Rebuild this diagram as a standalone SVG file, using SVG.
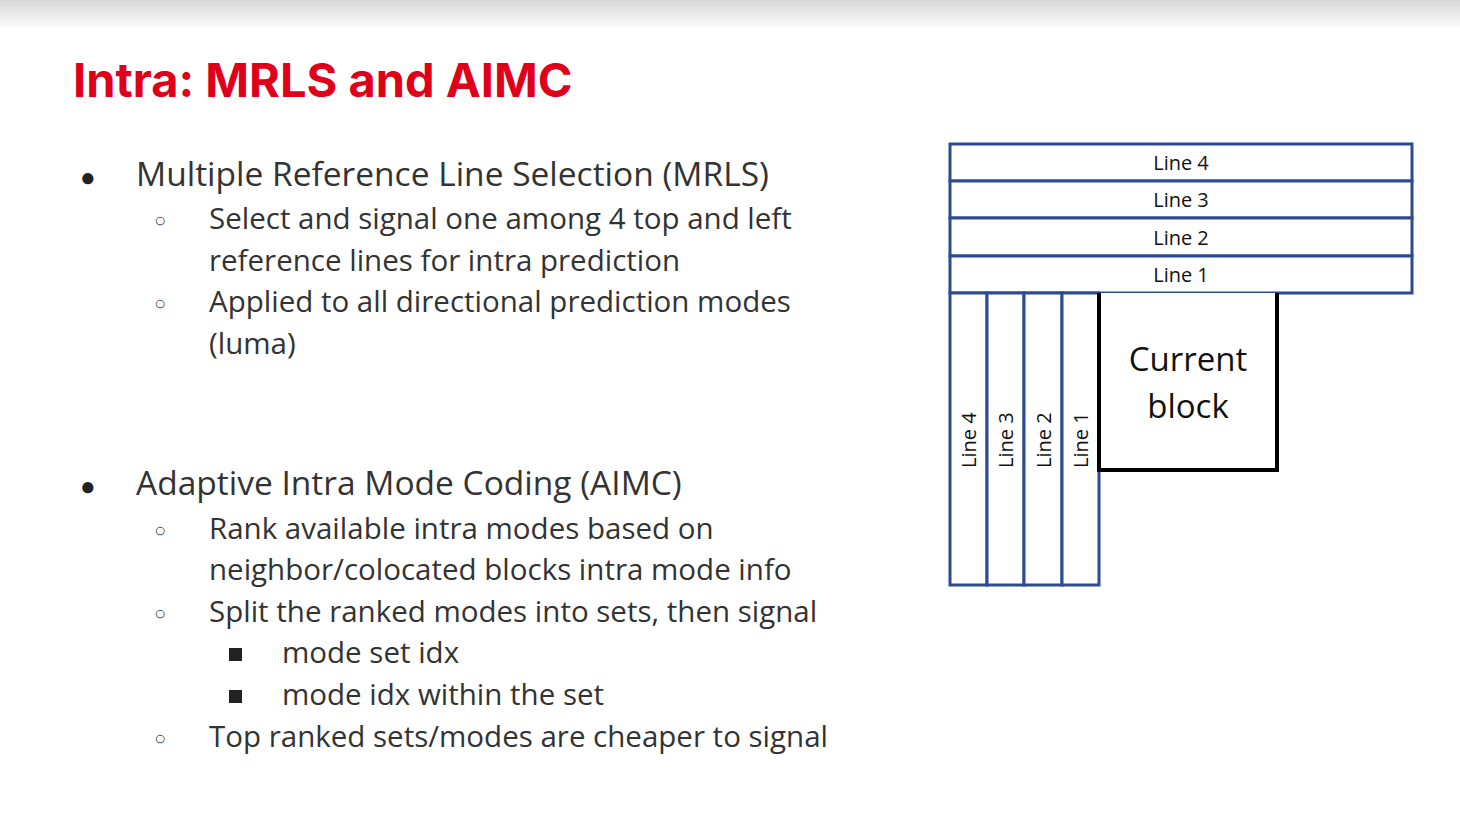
<svg xmlns="http://www.w3.org/2000/svg" width="1460" height="816" viewBox="0 0 1460 816">
<defs>
<linearGradient id="tg" x1="0" y1="0" x2="0" y2="1"><stop offset="0" stop-color="#d8d8d8"/><stop offset="1" stop-color="#ffffff"/></linearGradient>
<style>
.t{font-family:"Open Sans","Liberation Sans",sans-serif;font-size:29.5px;fill:#333}
.t1{font-family:"Open Sans","Liberation Sans",sans-serif;font-size:33.5px;fill:#333}
.b{font-family:"Liberation Sans",sans-serif;font-size:26px;fill:#222}
.c{font-family:"Liberation Sans",sans-serif;font-size:20px;fill:#555}
.lr{fill:#fff;stroke:#2f4b8f;stroke-width:3}
.ll{font-family:"Open Sans","Liberation Sans",sans-serif;font-size:20px;fill:#111;text-anchor:middle}
</style>
</defs>
<rect width="1460" height="816" fill="#fff"/>
<rect width="1460" height="30" fill="url(#tg)"/>
<text x="73" y="97" font-family="Inter,'Liberation Sans',sans-serif" font-weight="bold" font-size="47" fill="#e0001a">Intra: MRLS and AIMC</text>
<g id="text">
<text class="b" x="80" y="186">●</text>
<text class="t1" x="136" y="186">Multiple Reference Line Selection (MRLS)</text>
<text class="c" x="154" y="227">○</text>
<text class="t" x="209" y="229">Select and signal one among 4 top and left</text>
<text class="t" x="209" y="271">reference lines for intra prediction</text>
<text class="c" x="154" y="310">○</text>
<text class="t" x="209" y="312">Applied to all directional prediction modes</text>
<text class="t" x="209" y="354">(luma)</text>
<text class="b" x="80" y="495">●</text>
<text class="t1" x="136" y="495">Adaptive Intra Mode Coding (AIMC)</text>
<text class="c" x="154" y="537">○</text>
<text class="t" x="209" y="539">Rank available intra modes based on</text>
<text class="t" x="209" y="580">neighbor/colocated blocks intra mode info</text>
<text class="c" x="154" y="620">○</text>
<text class="t" x="209" y="622">Split the ranked modes into sets, then signal</text>
<rect x="229" y="648" width="13" height="13" fill="#222"/>
<text class="t" x="282" y="663">mode set idx</text>
<rect x="229" y="690" width="13" height="13" fill="#222"/>
<text class="t" x="282" y="705">mode idx within the set</text>
<text class="c" x="154" y="745">○</text>
<text class="t" x="209" y="747">Top ranked sets/modes are cheaper to signal</text>
</g>
<g id="top-lines">
<rect class="lr" x="950" y="144" width="462" height="37"/>
<rect class="lr" x="950" y="181" width="462" height="37"/>
<rect class="lr" x="950" y="218" width="462" height="38"/>
<rect class="lr" x="950" y="256" width="462" height="37"/>
<text class="ll" x="1181" y="170">Line 4</text>
<text class="ll" x="1181" y="207">Line 3</text>
<text class="ll" x="1181" y="245">Line 2</text>
<text class="ll" x="1181" y="282">Line 1</text>
</g>
<g id="left-lines">
<rect class="lr" x="950" y="293" width="37" height="292"/>
<rect class="lr" x="987" y="293" width="37" height="292"/>
<rect class="lr" x="1024" y="293" width="38" height="292"/>
<rect class="lr" x="1062" y="293" width="37" height="292"/>
<text class="ll" style="text-anchor:start" transform="translate(976,468) rotate(-90)">Line 4</text>
<text class="ll" style="text-anchor:start" transform="translate(1013,468) rotate(-90)">Line 3</text>
<text class="ll" style="text-anchor:start" transform="translate(1051,468) rotate(-90)">Line 2</text>
<text class="ll" style="text-anchor:start" transform="translate(1088,468) rotate(-90)">Line 1</text>
</g>
<g id="current-block">
<path d="M1099 293 V470 H1277 V293" fill="#fff" stroke="#000" stroke-width="4"/>
<text class="ll" style="font-size:33px" x="1188" y="371">Current</text>
<text class="ll" style="font-size:33px" x="1188" y="418">block</text>
</g>
</svg>
